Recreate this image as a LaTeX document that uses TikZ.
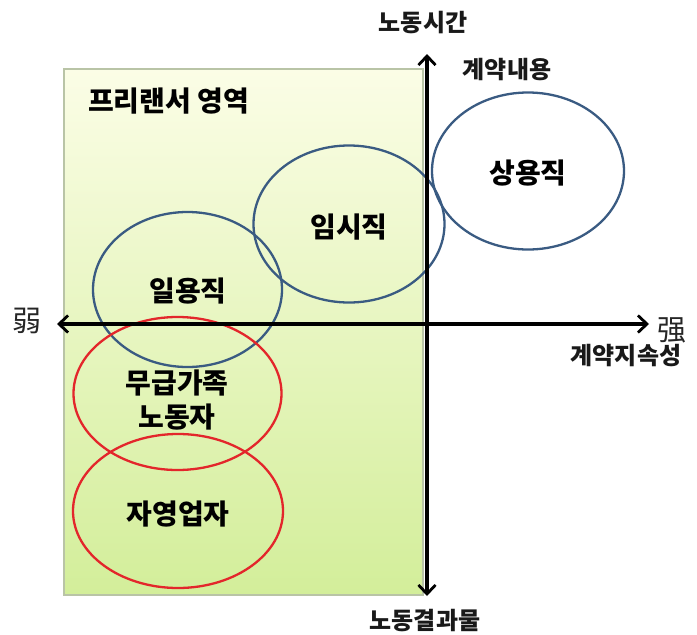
\documentclass[tikz,border=0pt]{standalone}
\usepackage{fontspec}
\setmainfont{Noto Sans CJK KR}
\newfontfamily\hanzi{Noto Sans CJK SC}
\usetikzlibrary{arrows.meta,shapes.geometric}
\definecolor{ellblue}{HTML}{3A5B82}
\definecolor{ellred}{HTML}{E3262B}
\definecolor{zonetop}{HTML}{FBFDE6}
\definecolor{zonebot}{HTML}{D3EE9A}
\definecolor{zoneline}{HTML}{B9C4A6}
\begin{document}
\begin{tikzpicture}[x=1pt,y=-1pt,
  zone/.style={draw=zoneline, line width=1.2pt, top color=zonetop, bottom color=zonebot},
  blueell/.style={ellipse, draw=ellblue, line width=2.3pt, inner sep=0pt},
  redell/.style={ellipse, draw=ellred, line width=2.3pt, inner sep=0pt},
  axisline/.style={line width=3.3pt, black, {Straight Barb[length=9pt,width=17pt,line width=2.8pt]}-{Straight Barb[length=9pt,width=17pt,line width=2.8pt]}},
  biglabel/.style={font=\fontsize{28}{34}\selectfont\bfseries, text=black, inner sep=0pt, align=center},
  axlabel/.style={font=\fontsize{24}{28}\selectfont\bfseries, text=black!90, inner sep=0pt},
  hzlabel/.style={font=\hanzi\fontsize{29}{32}\selectfont, text=black!85, inner sep=0pt}]
\useasboundingbox (0,0) rectangle (697,635);
% freelancer zone
\path[zone] (64,69) rectangle (423,595);
\node[biglabel, anchor=west] (zonelbl) at (88,101) {프리랜서 영역};
% ellipses
\node[blueell, minimum width=192pt, minimum height=157pt] (sang) at (528,171) {};
\node[blueell, minimum width=191pt, minimum height=157pt] (imsi) at (349,224) {};
\node[blueell, minimum width=189pt, minimum height=155pt] (ilyong) at (187.5,289.5) {};
\node[redell, minimum width=208pt, minimum height=153pt] (mugeup) at (177.5,393.5) {};
\node[redell, minimum width=210pt, minimum height=154pt] (jayeong) at (178,511) {};
% axes
\coordinate (ytop) at (427,54);
\coordinate (ybot) at (427,596);
\coordinate (xleft) at (57,324);
\coordinate (xright) at (649,324);
\draw[axisline] (ybot) -- (ytop);
\draw[axisline] (xleft) -- (xright);
% labels
\node[biglabel] (sanglbl) at (528,173) {상용직};
\node[biglabel] (imsilbl) at (349,227) {임시직};
\node[biglabel] (ilyonglbl) at (188,291) {일용직};
\node[biglabel] (mugeuplbl) at (177,400) {무급가족\\노동자};
\node[biglabel] (jayeonglbl) at (178,514) {자영업자};
\node[axlabel] (ytoplbl) at (423,23) {노동시간};
\node[axlabel] (contentlbl) at (507,70) {계약내용};
\node[axlabel] (ybotlbl) at (425,621) {노동결과물};
\node[axlabel] (durlbl) at (626,356) {계약지속성};
\node[hzlabel] (weak) at (27,321) {弱};
\node[hzlabel] (strong) at (672,330) {强};
\end{tikzpicture}
\end{document}
